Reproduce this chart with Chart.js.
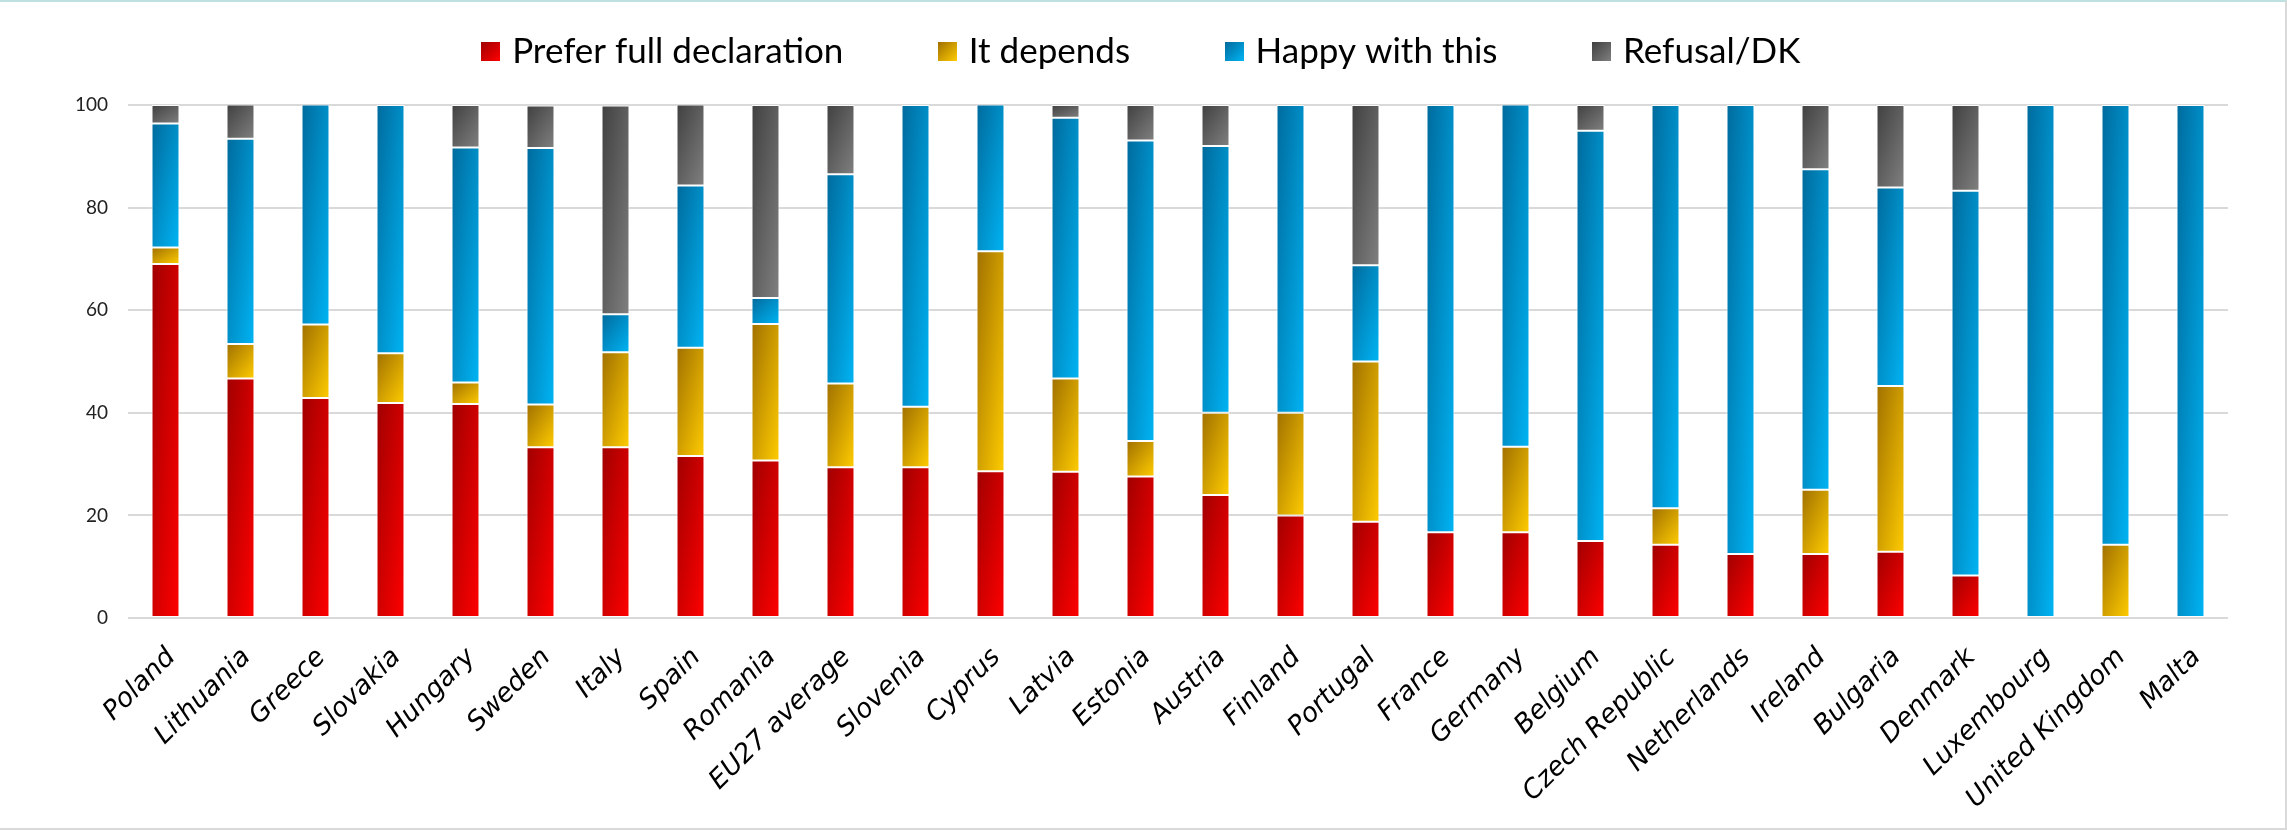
<!DOCTYPE html>
<html>
<head>
<meta charset="utf-8">
<script src="https://cdn.jsdelivr.net/npm/chart.js@4.4.1/dist/chart.umd.min.js"></script>
<style>
html,body{margin:0;padding:0;background:#ffffff;}
#wrap{position:relative;width:2287px;height:830px;overflow:hidden;}
#frame{position:absolute;left:0;top:0;width:2287px;height:830px;box-sizing:border-box;border-top:2px solid #bfe0e0;border-right:2px solid #d9d9d9;border-bottom:2px solid #d9d9d9;pointer-events:none;}
canvas{display:block;}
</style>
</head>
<body>
<div id="wrap"><canvas id="c" width="2287" height="830"></canvas><div id="frame"></div></div>
<script>
// ---- data ----
const categories = ["Poland","Lithuania","Greece","Slovakia","Hungary","Sweden","Italy","Spain","Romania","EU27 average","Slovenia","Cyprus","Latvia","Estonia","Austria","Finland","Portugal","France","Germany","Belgium","Czech Republic","Netherlands","Ireland","Bulgaria","Denmark","Luxembourg","United Kingdom","Malta"];
const seriesNames = ["Prefer full declaration","It depends","Happy with this","Refusal/DK"];
const preferFull = [69.0,46.7,42.9,41.9,41.7,33.3,33.3,31.6,30.7,29.4,29.4,28.6,28.5,27.6,24.0,20.0,18.75,16.7,16.7,15.0,14.3,12.5,12.5,12.9,8.3,0,0,0];
const itDepends  = [3.2,6.7,14.3,9.7,4.2,8.3,18.5,21.1,26.6,16.3,11.8,42.9,18.2,6.9,16.0,20.0,31.25,0,16.7,0,7.1,0,12.5,32.3,0,0,14.3,0];
const happyWithThis = [24.2,40.0,42.9,48.4,45.8,50.0,7.4,31.6,5.1,40.8,58.8,28.6,50.8,58.6,52.0,60.0,18.75,83.3,66.7,80.0,78.6,87.5,62.5,38.7,75.0,100,85.7,100];
const refusalDK  = [3.6,6.7,0,0,8.3,8.3,40.7,15.8,37.6,13.5,0,0,2.5,6.9,8.0,0,31.25,0,0,5.0,0,0,12.5,16.1,16.7,0,0,0];
const yTickValues = [0,20,40,60,80,100];

// ---- styles ----
const gradColors = [["#a00000","#ff0000"],["#a07000","#ffcc00"],["#006a9c","#00b4f4"],["#404040","#808080"]];
const midColors = ["#d40000","#d8a000","#0090cc","#606060"];

function makeIcon(i){
  const cv = document.createElement('canvas');
  cv.width = 19; cv.height = 19;
  const c = cv.getContext('2d');
  const g = c.createLinearGradient(0,0,19,19);
  g.addColorStop(0, gradColors[i][0]);
  g.addColorStop(1, gradColors[i][1]);
  c.fillStyle = g; c.fillRect(0,0,19,19);
  return cv;
}
const legendIcons = [0,1,2,3].map(makeIcon);

const gradPlugin = {
  id: 'gradFill',
  beforeDatasetsDraw(chart){
    const ctx = chart.ctx;
    chart.data.datasets.forEach((ds, di) => {
      const meta = chart.getDatasetMeta(di);
      meta.data.forEach(el => {
        const p = el.getProps(['x','y','base','width'], true);
        const w = p.width, h = Math.abs(p.base - p.y);
        if (!(h > 0)) return;
        const left = p.x - w/2, top = Math.min(p.y, p.base);
        const k = 2*w*h/(w*w + h*h);
        const g = ctx.createLinearGradient(left, top, left + k*h, top + k*w);
        g.addColorStop(0, gradColors[di][0]);
        g.addColorStop(1, gradColors[di][1]);
        el.options.backgroundColor = g;
      });
    });
  }
};

const legendFit = {
  id: 'legendFit',
  beforeInit(chart){
    const orig = chart.legend.fit;
    chart.legend.fit = function(){ orig.bind(chart.legend)(); this.height = 171; };
  }
};

const seriesData = [preferFull, itDepends, happyWithThis, refusalDK];
const datasets = seriesNames.map((name, i) => ({
  label: name,
  data: seriesData[i],
  backgroundColor: (c) => midColors[c.datasetIndex],
  borderColor: 'rgba(255,255,255,0.85)',
  borderWidth: 1,
  borderSkipped: false,
  barPercentage: 0.373,
  categoryPercentage: 1.0
}));

new Chart(document.getElementById('c'), {
  type: 'bar',
  data: { labels: categories, datasets },
  plugins: [gradPlugin, legendFit],
  options: {
    responsive: false,
    devicePixelRatio: 1,
    animation: false,
    layout: { padding: { top: -66, left: 59, right: 59, bottom: 0 } },
    plugins: {
      tooltip: { enabled: false },
      legend: {
        position: 'top',
        labels: {
          font: { family: 'Lato', size: 35 },
          color: '#000000',
          boxWidth: 8,
          boxHeight: 19,
          padding: 100,
          usePointStyle: true,
          generateLabels(chart){
            const items = Chart.defaults.plugins.legend.labels.generateLabels(chart);
            items.forEach((it, i) => { it.pointStyle = legendIcons[i]; it.fillStyle = midColors[i]; it.lineWidth = 0; });
            return items;
          }
        }
      }
    },
    scales: {
      x: {
        stacked: true,
        grid: { display: false, drawTicks: false },
        border: { display: false },
        ticks: {
          autoSkip: false, minRotation: 45, maxRotation: 45, padding: 24, labelOffset: 6,
          font: { family: 'DejaVu Sans', size: 26.5, style: 'italic' },
          color: '#000000'
        },
        afterFit(scale){ scale.height = 212; }
      },
      y: {
        stacked: true,
        min: 0, max: 100,
        afterBuildTicks(scale){ scale.ticks = yTickValues.map(v => ({ value: v })); },
        grid: { color: '#d9d9d9', lineWidth: 2, drawTicks: false },
        border: { display: false },
        ticks: { padding: 20, font: { family: 'Lato', size: 19 }, color: '#222222' },
        afterFit(scale){ scale.width = 69; }
      }
    }
  }
});
</script>
</body>
</html>
